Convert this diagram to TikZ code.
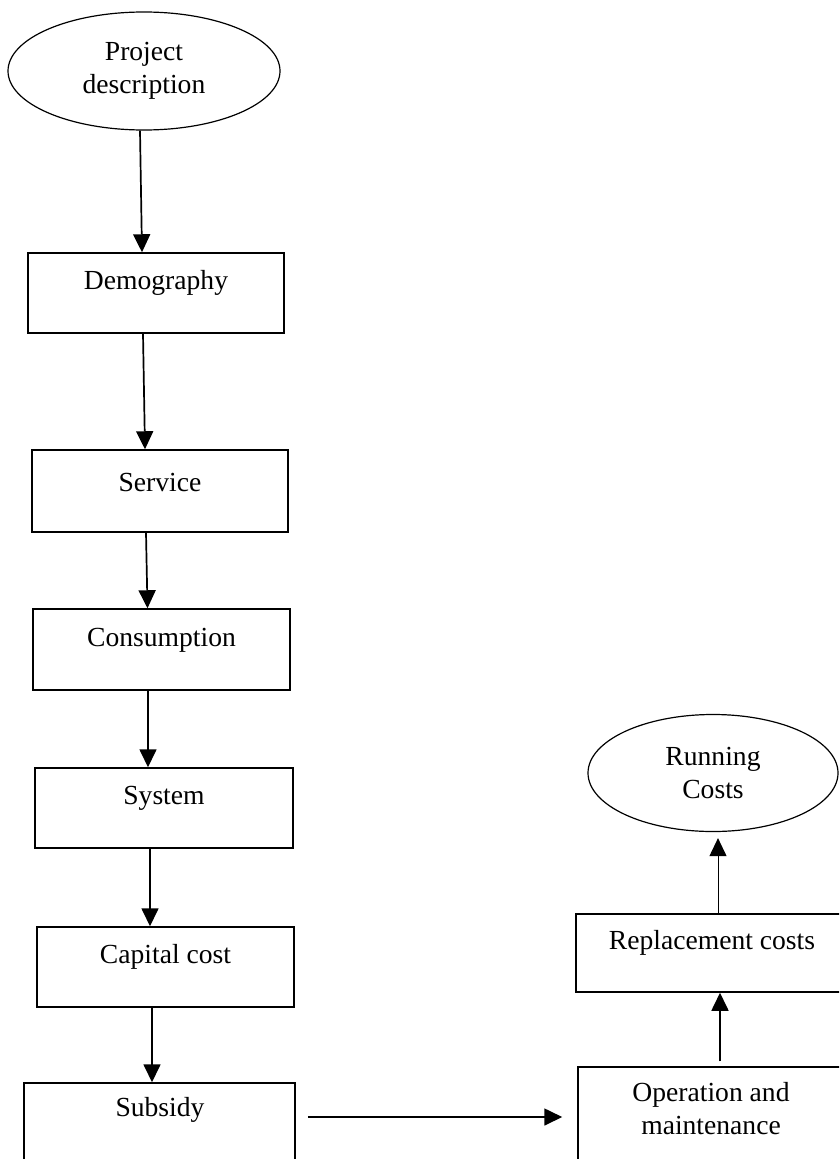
\documentclass[tikz,border=0pt]{standalone}
\usepackage{fontspec}
\setmainfont{Liberation Serif}
\usetikzlibrary{shapes.geometric,arrows.meta,calc}
\begin{document}
\begin{tikzpicture}[x=1pt,y=-1pt,
  every node/.style={font=\fontsize{27.6}{33}\selectfont, align=center},
  box/.style={draw, line width=1.5pt, inner sep=0pt},
  oval/.style={draw, ellipse, line width=1.2pt, inner sep=0pt, minimum width=272pt, minimum height=118pt},
  arr/.style={line width=1.7pt, -{Triangle[length=18pt,width=17pt]}},
  thinarr/.style={line width=1pt, -{Triangle[length=18pt,width=17pt]}}]
\useasboundingbox (0,0) rectangle (839,1159);
\clip (0,0) rectangle (839,1159);
\fill[white] (0,0) rectangle (839,1159);
% left column
\node[oval] (pd) at (144,71) {Project\\description};
\node[box, minimum width=256pt, minimum height=80pt] (dem) at (156,293) {};
\node (demt) at (156,283) {Demography};
\node[box, minimum width=256pt, minimum height=82pt] (ser) at (160,491) {};
\node (sert) at (160,482) {Service};
\node[box, minimum width=257pt, minimum height=81pt] (con) at (161.5,649.5) {};
\node (cont) at (161.5,640) {Consumption};
\node[box, minimum width=258pt, minimum height=80pt] (sys) at (164,808) {};
\node (syst) at (164,798) {System};
\node[box, minimum width=257pt, minimum height=80pt] (cap) at (165.5,967) {};
\node (capt) at (165.5,957) {Capital cost};
\node[box, minimum width=271pt, minimum height=100pt] (sub) at (159.5,1133) {};
\node (subt) at (160,1110) {Subsidy};
% right column
\node[oval, minimum width=250pt, minimum height=117pt] (rc) at (713,773) {Running\\Costs};
\node[box, minimum width=290pt, minimum height=78pt] (rep) at (721,953) {};
\node (rept) at (712,943) {Replacement costs};
\node[box, minimum width=290pt, minimum height=110pt] (om) at (723,1122) {};
\node (omt) at (711,1109) {Operation and\\maintenance};
% connectors
\draw[arr] ($(pd.south)+(-4,0)$) -- ($(dem.north)+(-14,0)$);
\draw[arr] ($(dem.south)+(-13,0)$) -- ($(ser.north)+(-15,0)$);
\draw[arr] ($(ser.south)+(-14,0)$) -- ($(con.north)+(-14,0)$);
\draw[arr] ($(con.south)+(-13.5,0)$) -- ($(sys.north)+(-16,0)$);
\draw[arr] ($(sys.south)+(-14,0)$) -- ($(cap.north)+(-15.5,0)$);
\draw[arr] ($(cap.south)+(-13.5,0)$) -- ($(sub.north)+(-7.5,0)$);
\draw[arr] ($(sub.east)+(12,-16)$) -- ($(om.west)+(-15,-5)$);
\draw[arr] ($(om.north)+(-3,-5)$) -- ($(rep.south)+(-1,0)$);
\draw[thinarr] ($(rep.north)+(-3,0)$) -- ($(rc.south)+(5,6)$);
\end{tikzpicture}
\end{document}
